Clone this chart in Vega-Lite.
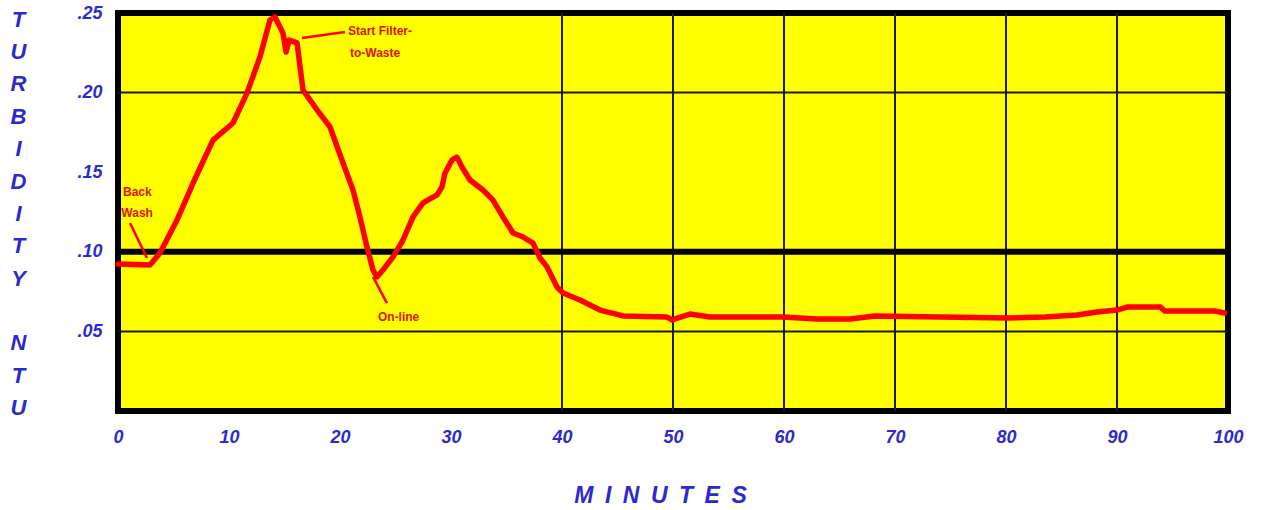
{
  "$schema": "https://vega.github.io/schema/vega-lite/v6.json",
  "width": 1110,
  "height": 398,
  "autosize": {"type": "none"},
  "padding": {"left": 118, "top": 13, "right": 41, "bottom": 99},
  "background": "white",
  "config": {"view": {"fill": "#ffff00", "stroke": "black", "strokeWidth": 6}},
  "datasets": {
    "turbidity": [
      {"minute": 0, "ntu": 0.0923},
      {"minute": 2.88, "ntu": 0.0917},
      {"minute": 3.78, "ntu": 0.0992},
      {"minute": 5.32, "ntu": 0.12},
      {"minute": 6.22, "ntu": 0.1344},
      {"minute": 6.76, "ntu": 0.1432},
      {"minute": 8.56, "ntu": 0.1702},
      {"minute": 10.36, "ntu": 0.1809},
      {"minute": 11.62, "ntu": 0.1997},
      {"minute": 12.79, "ntu": 0.2224},
      {"minute": 13.69, "ntu": 0.2456},
      {"minute": 14.14, "ntu": 0.2475},
      {"minute": 14.86, "ntu": 0.2374},
      {"minute": 15.14, "ntu": 0.2255},
      {"minute": 15.41, "ntu": 0.233},
      {"minute": 16.13, "ntu": 0.2312},
      {"minute": 16.67, "ntu": 0.2016},
      {"minute": 17.93, "ntu": 0.1891},
      {"minute": 19.1, "ntu": 0.1784},
      {"minute": 20.27, "ntu": 0.1558},
      {"minute": 21.17, "ntu": 0.1388},
      {"minute": 21.8, "ntu": 0.1218},
      {"minute": 22.43, "ntu": 0.103},
      {"minute": 22.97, "ntu": 0.0886},
      {"minute": 23.33, "ntu": 0.0842},
      {"minute": 23.87, "ntu": 0.0886},
      {"minute": 24.77, "ntu": 0.0967},
      {"minute": 25.68, "ntu": 0.1074},
      {"minute": 26.58, "ntu": 0.1219},
      {"minute": 27.48, "ntu": 0.1307},
      {"minute": 28.74, "ntu": 0.1357},
      {"minute": 29.19, "ntu": 0.1407},
      {"minute": 29.46, "ntu": 0.1495},
      {"minute": 30.09, "ntu": 0.1577},
      {"minute": 30.54, "ntu": 0.1595},
      {"minute": 30.99, "ntu": 0.1533},
      {"minute": 31.71, "ntu": 0.1451},
      {"minute": 32.88, "ntu": 0.1388},
      {"minute": 33.78, "ntu": 0.1325},
      {"minute": 34.68, "ntu": 0.1219},
      {"minute": 35.59, "ntu": 0.1118},
      {"minute": 36.49, "ntu": 0.1093},
      {"minute": 37.39, "ntu": 0.1055},
      {"minute": 38.02, "ntu": 0.0961},
      {"minute": 38.65, "ntu": 0.0905},
      {"minute": 39.55, "ntu": 0.0779},
      {"minute": 40.09, "ntu": 0.0741},
      {"minute": 41.62, "ntu": 0.0697},
      {"minute": 43.42, "ntu": 0.0634},
      {"minute": 45.5, "ntu": 0.0597},
      {"minute": 49.46, "ntu": 0.059},
      {"minute": 49.91, "ntu": 0.0572},
      {"minute": 51.53, "ntu": 0.0609},
      {"minute": 53.33, "ntu": 0.059},
      {"minute": 59.91, "ntu": 0.059},
      {"minute": 62.97, "ntu": 0.0578},
      {"minute": 65.95, "ntu": 0.0578},
      {"minute": 68.2, "ntu": 0.0597},
      {"minute": 80.09, "ntu": 0.0584},
      {"minute": 83.5, "ntu": 0.059},
      {"minute": 86.4, "ntu": 0.0603},
      {"minute": 88.2, "ntu": 0.0622},
      {"minute": 90.0, "ntu": 0.0634},
      {"minute": 90.9, "ntu": 0.0653},
      {"minute": 93.9, "ntu": 0.0653},
      {"minute": 94.3, "ntu": 0.0628},
      {"minute": 98.8, "ntu": 0.0628},
      {"minute": 99.7, "ntu": 0.0616}
    ],
    "vgrid": [{"minute": 40}, {"minute": 50}, {"minute": 60}, {"minute": 70}, {"minute": 80}, {"minute": 90}],
    "hgridThin": [{"ntu": 0.05}, {"ntu": 0.2}],
    "hgridThick": [{"ntu": 0.1}],
    "notes": [
      {"minute": 0.45, "ntu": 0.1376, "label": "Back"},
      {"minute": 0.3, "ntu": 0.1244, "label": "Wash"},
      {"minute": 20.72, "ntu": 0.2387, "label": "Start Filter-"},
      {"minute": 20.9, "ntu": 0.2249, "label": "to-Waste"},
      {"minute": 23.42, "ntu": 0.059, "label": "On-line"}
    ],
    "pointers": [
      {"minute": 1.08, "ntu": 0.1181, "minute2": 2.61, "ntu2": 0.0961},
      {"minute": 22.97, "ntu": 0.0842, "minute2": 24.23, "ntu2": 0.0678},
      {"minute": 16.58, "ntu": 0.2343, "minute2": 20.45, "ntu2": 0.2381}
    ]
  },
  "layer": [
    {
      "data": {"name": "vgrid"},
      "mark": {"type": "rule", "color": "#1a1a1a", "strokeWidth": 2},
      "encoding": {
        "x": {
          "field": "minute", "type": "quantitative",
          "scale": {"domain": [0, 100], "nice": false, "zero": false},
          "axis": {
            "values": [0, 10, 20, 30, 40, 50, 60, 70, 80, 90, 100],
            "format": "d",
            "grid": false, "domain": false, "ticks": false,
            "labelFlush": false, "labelOverlap": false,
            "labelPadding": 17,
            "labelFont": "Liberation Sans", "labelFontSize": 18, "labelFontStyle": "italic", "labelFontWeight": "bold", "labelColor": "#2a2ad0",
            "title": "M\u2002I\u2002N\u2002U\u2002T\u2002E\u2002S",
            "titleX": 542, "titleY": 84, "titleAlign": "center", "titleBaseline": "middle",
            "titleFont": "Liberation Sans", "titleFontSize": 23, "titleFontStyle": "italic", "titleFontWeight": "bold", "titleColor": "#2a2ad0"
          }
        }
      }
    },
    {
      "data": {"name": "hgridThin"},
      "mark": {"type": "rule", "color": "#1a1a1a", "strokeWidth": 2},
      "encoding": {
        "y": {
          "field": "ntu", "type": "quantitative",
          "scale": {"domain": [0, 0.25], "nice": false, "zero": false},
          "axis": {
            "values": [0.05, 0.1, 0.15, 0.2, 0.25],
            "labelExpr": "replace(format(datum.value, '.2f'), '0.', '.')",
            "grid": false, "domain": false, "ticks": false,
            "labelOverlap": false,
            "labelPadding": 16,
            "labelFont": "Liberation Sans", "labelFontSize": 18, "labelFontStyle": "italic", "labelFontWeight": "bold", "labelColor": "#2a2ad0",
            "title": ["T", "U", "R", "B", "I", "D", "I", "T", "Y", "\u2800", "N", "T", "U"],
            "titleAngle": 0, "titleX": -100, "titleY": -4, "titleAlign": "center", "titleBaseline": "top",
            "titleLineHeight": 32.4,
            "titleFont": "Liberation Sans", "titleFontSize": 22, "titleFontStyle": "italic", "titleFontWeight": "bold", "titleColor": "#2a2ad0"
          }
        }
      }
    },
    {
      "data": {"name": "hgridThick"},
      "mark": {"type": "rule", "color": "black", "strokeWidth": 6},
      "encoding": {
        "y": {"field": "ntu", "type": "quantitative"}
      }
    },
    {
      "data": {"name": "turbidity"},
      "mark": {"type": "line", "color": "#ff0000", "strokeWidth": 5.5, "strokeCap": "round", "strokeJoin": "round"},
      "encoding": {
        "x": {"field": "minute", "type": "quantitative"},
        "y": {"field": "ntu", "type": "quantitative"}
      }
    },
    {
      "data": {"name": "pointers"},
      "mark": {"type": "rule", "color": "#ff0000", "strokeWidth": 2.5},
      "encoding": {
        "x": {"field": "minute", "type": "quantitative"},
        "y": {"field": "ntu", "type": "quantitative"},
        "x2": {"field": "minute2"},
        "y2": {"field": "ntu2"}
      }
    },
    {
      "data": {"name": "notes"},
      "mark": {"type": "text", "color": "#e01000", "font": "Liberation Sans", "fontSize": 12, "fontWeight": "bold", "align": "left", "baseline": "middle"},
      "encoding": {
        "x": {"field": "minute", "type": "quantitative"},
        "y": {"field": "ntu", "type": "quantitative"},
        "text": {"field": "label", "type": "nominal"}
      }
    }
  ]
}
